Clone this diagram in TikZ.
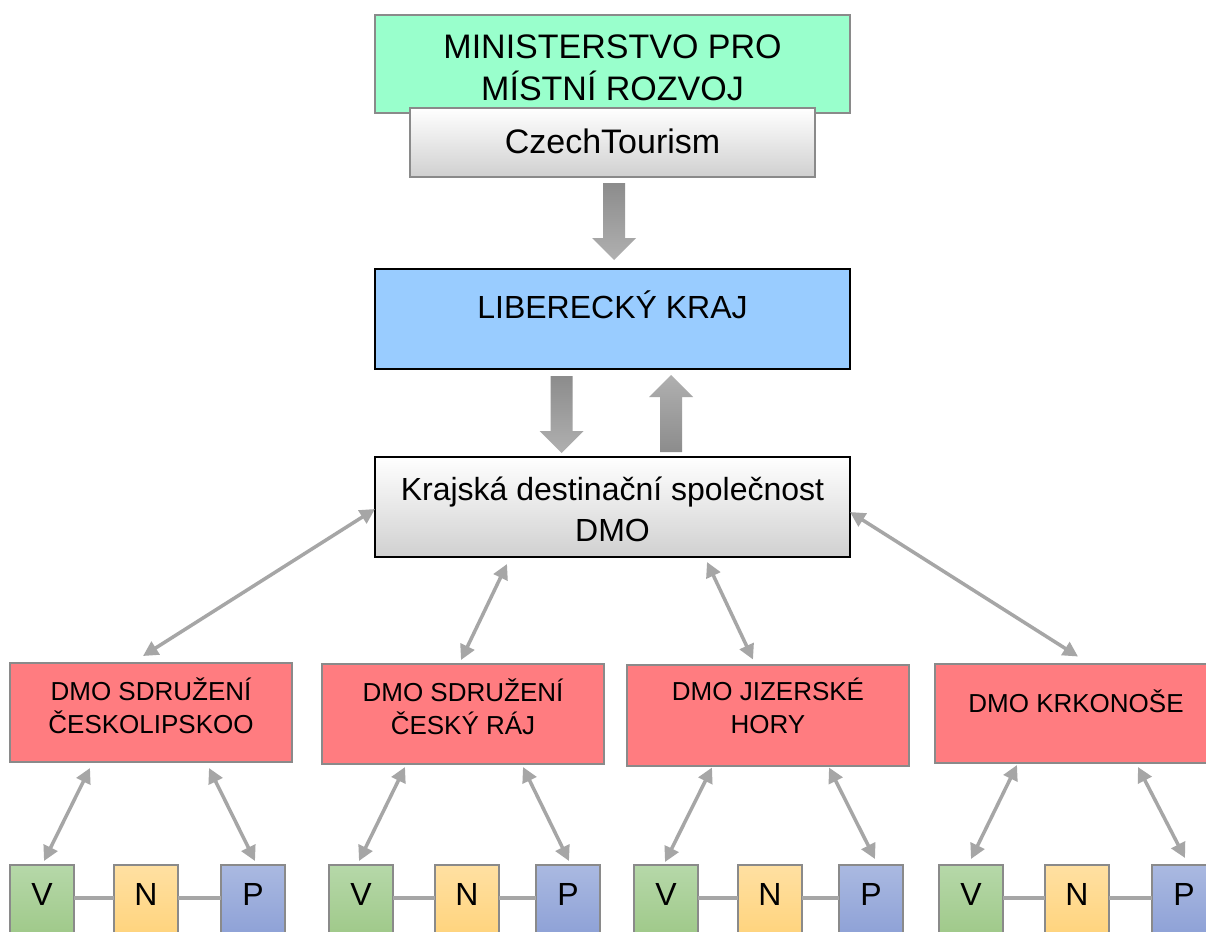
\documentclass[tikz,border=0pt]{standalone}
\usepackage{fontspec}
\setmainfont{Liberation Sans}
\usetikzlibrary{arrows.meta,calc}
\definecolor{mint}{HTML}{99FFCC}
\definecolor{skyb}{HTML}{99CCFF}
\definecolor{dmored}{HTML}{FF7C80}
\definecolor{bgray}{HTML}{8A8A8A}
\definecolor{agray}{HTML}{A6A6A6}
\definecolor{fadegray}{HTML}{D0D0D0}
\definecolor{vtop}{HTML}{B6D8A9}
\definecolor{vbot}{HTML}{9CC785}
\definecolor{ntop}{HTML}{FFE0A2}
\definecolor{nbot}{HTML}{FFD278}
\definecolor{ptop}{HTML}{AAB9E1}
\definecolor{pbot}{HTML}{8A9ED5}
\definecolor{fatdark}{HTML}{8C8C8C}
\definecolor{fatlight}{HTML}{B0B0B0}
\newcommand\fatarrow[3]{%
  \coordinate (hb) at ($(#2)!22pt!(#1)$);
  \path[#3] ($(#1)!11pt!90:(#2)$) -- ($(hb)!11pt!-90:(#1)$) -- ($(hb)!22pt!-90:(#1)$) -- (#2)
    -- ($(hb)!22pt!90:(#1)$) -- ($(hb)!11pt!90:(#1)$) -- ($(#1)!11pt!-90:(#2)$) -- cycle;}
% two-line label: #1 = baseline of last line (pt, relative to node centre, up positive)
\newcommand\twolines[3]{\raisebox{#1}[0pt][0pt]{\begin{tabular}[b]{@{}c@{}}#2\\#3\end{tabular}}}
\begin{document}
\begin{tikzpicture}[x=1pt,y=-1pt,
  box/.style={draw=bgray, line width=2pt, rectangle, inner sep=0pt, outer sep=0pt, align=center, text=black},
  blackbox/.style={box, draw=black},
  silver/.style={top color=white, middle color=white, bottom color=fadegray},
  dmobox/.style={box, fill=dmored, minimum width=282, font=\fontsize{26}{33}\selectfont},
  sq/.style={draw=bgray, line width=1.5pt, rectangle, inner sep=0pt, outer sep=0pt, minimum width=64, minimum height=80,
    font=\fontsize{32}{38}\selectfont, text height=23pt, text depth=0pt},
  vbox/.style={sq, top color=vtop, bottom color=vbot},
  nbox/.style={sq, top color=ntop, bottom color=nbot},
  pbox/.style={sq, top color=ptop, bottom color=pbot},
  dbl/.style={draw=agray, line width=3.5pt, {Triangle[length=15pt,width=15pt]}-{Triangle[length=15pt,width=15pt]}},
  link/.style={draw=agray, line width=4pt},
  fatdown/.style={top color=fatdark, bottom color=fatlight},
  fatup/.style={top color=fatlight, bottom color=fatdark}
]
\useasboundingbox (0,0) rectangle (1206,931);
\clip (0,0) rectangle (1206,931);
\fill[white] (0,0) rectangle (1206,931);

% top
\node[box, fill=mint, minimum width=475, minimum height=98, font=\fontsize{34}{42}\selectfont] (mrr) at (612.5,64)
  {\twolines{-37pt}{MINISTERSTVO PRO}{MÍSTNÍ ROZVOJ}};
\node[box, silver, minimum width=405, minimum height=69,
  font=\fontsize{34}{40}\selectfont, text height=24pt, text depth=0pt] (ct) at (612.5,142.5) {\raisebox{1.5pt}{CzechTourism}};

\node[blackbox, fill=skyb, minimum width=475, minimum height=100,
  font=\fontsize{32}{38}\selectfont, text height=23pt, text depth=0pt] (lk) at (612.5,319) {\raisebox{12.5pt}{LIBERECKÝ KRAJ}};

\node[blackbox, silver, minimum width=475, minimum height=100,
  font=\fontsize{32}{40.5}\selectfont] (kd) at (612.5,507)
  {\twolines{-34pt}{Krajská destinační společnost}{DMO}};

% fat arrows
\fatarrow{$(ct.south)+(1.5,6)$}{$(lk.north)+(1.5,-9)$}{fatdown}
\fatarrow{$(lk.south)+(-51,7)$}{$(kd.north)+(-51,-4)$}{fatdown}
\fatarrow{$(kd.north)+(58.5,-5)$}{$(lk.south)+(58.5,6)$}{fatup}

% DMO boxes
\node[dmobox, minimum height=99] (d1) at (151,712.5)
  {\twolines{-20.8pt}{DMO SDRUŽENÍ}{ČESKOLIPSKOO}};
\node[dmobox, minimum height=100] (d2) at (463,714)
  {\twolines{-20.3pt}{DMO SDRUŽENÍ}{ČESKÝ RÁJ}};
\node[dmobox, minimum height=101] (d3) at (768,715)
  {\twolines{-18.8pt}{DMO JIZERSKÉ}{HORY}};
\node[dmobox, minimum height=99, text height=19pt, text depth=0pt] (d4) at (1076,713.5)
  {\raisebox{11pt}{DMO KRKONOŠE}};

% kd <-> DMO
\draw[dbl] ($(kd.west)+(0,2)$) -- ($(d1.north)+(-8,-7)$);
\draw[dbl] ($(kd.south)+(-105.5,7)$) -- ($(d2.north)+(-2,-4)$);
\draw[dbl] ($(kd.south)+(94.5,5)$) -- ($(d3.north)+(-15,-5)$);
\draw[dbl] ($(kd.east)+(0,5)$) -- ($(d4.north)+(2,-7.5)$);

% small boxes
\foreach \i/\xv/\xn/\xp in {1/42/146/253, 2/361/467/568, 3/666/770/871, 4/971/1077/1184}{
  \node[vbox] (v\i) at (\xv,905) {\raisebox{11.5pt}{V}};
  \node[nbox] (n\i) at (\xn,905) {\raisebox{11.5pt}{N}};
  \node[pbox] (p\i) at (\xp,905) {\raisebox{11.5pt}{P}};
  \draw[link] ($(v\i.east)+(0,-7)$) -- ($(n\i.west)+(0,-7)$);
  \draw[link] ($(n\i.east)+(0,-7)$) -- ($(p\i.west)+(0,-7)$);
}

% DMO <-> V / P
\draw[dbl] ($(d1.south)+(-61,6)$) -- ($(v1.north)+(2,-4)$);
\draw[dbl] ($(d1.south)+(58,6)$) -- ($(p1.north)+(2,-4)$);
\draw[dbl] ($(d2.south)+(-58,3)$) -- ($(v2.north)+(-2,-4)$);
\draw[dbl] ($(d2.south)+(60,3)$) -- ($(p2.north)+(1,-4)$);
\draw[dbl] ($(d3.south)+(-56,2)$) -- ($(v3.north)+(-1,-3)$);
\draw[dbl] ($(d3.south)+(61,2)$) -- ($(p3.north)+(4,-6)$);
\draw[dbl] ($(d4.south)+(-59,2)$) -- ($(v4.north)+(0,-6)$);
\draw[dbl] ($(d4.south)+(62,4)$) -- ($(p4.north)+(1,-7)$);
\end{tikzpicture}
\end{document}
